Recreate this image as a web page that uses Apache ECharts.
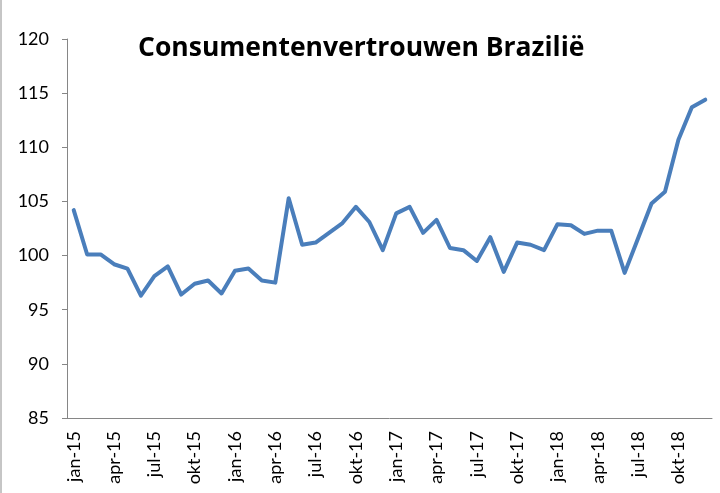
<!DOCTYPE html>
<html>
<head>
<meta charset="utf-8">
<script src="https://cdn.jsdelivr.net/npm/echarts@6/dist/echarts.min.js"></script>
<style>
  html, body { margin: 0; padding: 0; background: #fff; }
  #chart { width: 720px; height: 493px; }
</style>
</head>
<body>
<div id="chart"></div>
<script>
// maanden jan-15 .. dec-18
const monthNames = ['jan', 'feb', 'mrt', 'apr', 'mei', 'jun', 'jul', 'aug', 'sep', 'okt', 'nov', 'dec'];
const years = ['15', '16', '17', '18'];
const months = [];
years.forEach(y => monthNames.forEach(m => months.push(m + '-' + y)));

const confidence = [
  104.2, 100.1, 100.1, 99.2, 98.8, 96.3, 98.1, 99.0, 96.4, 97.4, 97.7, 96.5,
  98.6, 98.8, 97.7, 97.5, 105.3, 101.0, 101.2, 102.1, 103.0, 104.5, 103.1, 100.5,
  103.9, 104.5, 102.1, 103.3, 100.7, 100.5, 99.5, 101.7, 98.5, 101.2, 101.0, 100.5,
  102.9, 102.8, 102.0, 102.3, 102.3, 98.4, 101.6, 104.8, 105.9, 110.7, 113.7, 114.4
];

const yTicks = { min: 85, max: 120, step: 5 };
const font = 'Lato, "Open Sans", sans-serif';

let myChart = echarts.init(document.getElementById('chart'));
myChart.setOption({
  animation: false,
  title: {
    text: 'Consumentenvertrouwen Brazilië',
    left: 133,
    top: 30,
    textStyle: { fontFamily: '"Open Sans", sans-serif', fontWeight: 'bold', fontSize: 26.5, color: '#000' }
  },
  graphic: [{
    type: 'line',
    shape: { x1: 1, y1: 0, x2: 1, y2: 493 },
    style: { stroke: '#8c8c8c', lineWidth: 1 }
  }],
  grid: { left: 67, right: 8, top: 39, bottom: 75 },
  xAxis: {
    type: 'category',
    data: months,
    boundaryGap: true,
    axisLine: { lineStyle: { color: '#868686', width: 1 } },
    axisTick: { interval: 2, length: 5, lineStyle: { color: '#868686' } },
    axisLabel: {
      interval: 2,
      rotate: 90,
      margin: 13,
      fontFamily: font,
      fontSize: 18,
      color: '#000'
    }
  },
  yAxis: {
    type: 'value',
    min: yTicks.min,
    max: yTicks.max,
    interval: yTicks.step,
    splitLine: { show: false },
    axisLine: { show: true, lineStyle: { color: '#868686', width: 1 } },
    axisTick: { show: true, length: 5, lineStyle: { color: '#868686' } },
    axisLabel: { margin: 18, fontFamily: font, fontSize: 18, color: '#000' }
  },
  series: [{
    type: 'line',
    data: confidence,
    showSymbol: false,
    lineStyle: { color: '#4a7ebb', width: 4, join: 'round', cap: 'round' },
    itemStyle: { color: '#4a7ebb' }
  }]
});
</script>
</body>
</html>
